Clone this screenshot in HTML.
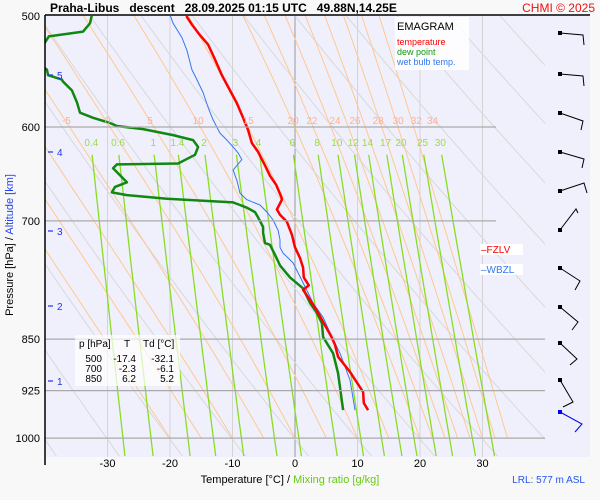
<!DOCTYPE html>
<html><head><meta charset="utf-8"><style>
html,body{margin:0;padding:0;background:#f8f8f8;}
svg{display:block;font-family:"Liberation Sans",Arial,sans-serif;}
</style></head><body>
<svg id="chart" width="600" height="500" viewBox="0 0 600 500">
<defs><clipPath id="pc"><rect x="45" y="16" width="500" height="441"/></clipPath></defs>
<rect x="45" y="16" width="545" height="441" fill="#f0f0fc"/>
<g id="grid" clip-path="url(#pc)"></g>
<g id="series" clip-path="url(#pc)"></g>
<g id="axes"></g>
<line x1="45" y1="15" x2="590" y2="15" stroke="#000" stroke-width="1.5"/>
<line x1="45" y1="15" x2="45" y2="465" stroke="#000" stroke-width="1.5"/>
<text x="50" y="12" font-size="12" font-weight="bold" xml:space="preserve">Praha-Libus   descent   28.09.2025 01:15 UTC   49.88N,14.25E</text>
<text x="595" y="12" font-size="12" fill="#ee1111" text-anchor="end">CHMI © 2025</text>
<g>
<rect x="395" y="17" width="74" height="53" fill="#fff" opacity="0.85"/>
<text x="397" y="30" font-size="11">EMAGRAM</text>
<text x="397" y="45" font-size="9" fill="#ff0000">temperature</text>
<text x="397" y="55" font-size="9" fill="#119911">dew point</text>
<text x="397" y="65" font-size="9" fill="#3377ee">wet bulb temp.</text>
</g>
<g font-size="10">
<rect x="75" y="335" width="105" height="51" fill="#fff" opacity="0.7"/>
<text x="79" y="347">p [hPa]</text><text x="124" y="347">T</text><text x="143" y="347">Td [°C]</text>
<text x="102" y="362" text-anchor="end">500</text><text x="136" y="362" text-anchor="end">-17.4</text><text x="174" y="362" text-anchor="end">-32.1</text>
<text x="102" y="372" text-anchor="end">700</text><text x="136" y="372" text-anchor="end">-2.3</text><text x="174" y="372" text-anchor="end">-6.1</text>
<text x="102" y="382" text-anchor="end">850</text><text x="136" y="382" text-anchor="end">6.2</text><text x="174" y="382" text-anchor="end">5.2</text>
</g>
<g><rect x="480" y="244" width="43" height="11" fill="#fff"/><text x="481" y="253" font-size="10" fill="#ff0000">–FZLV</text></g>
<g><rect x="480" y="264" width="43" height="11" fill="#fff"/><text x="481" y="273" font-size="10" fill="#3377ee">–WBZL</text></g>
<text x="290" y="483" font-size="11" text-anchor="middle">Temperature [°C]  /  <tspan fill="#66cc11">Mixing ratio [g/kg]</tspan></text>
<text x="585" y="483" font-size="10" fill="#2255ee" text-anchor="end">LRL: 577 m ASL</text>
<text transform="translate(13,245) rotate(-90)" font-size="11" text-anchor="middle">Pressure [hPa]  /  <tspan fill="#2244ee">Altitude [km]</tspan></text>
<g id="barbs"></g>
</svg>
<script>
// data
const tempP=[500,507,516,524,537,551,565,577,591,603,616,625,639,650,660,673,676,687,693,701,716,731,744,756,768,778,784,797,814,831,848,858,875,897,927,944,955];
const tempT=[-17.4,-16.5,-15.2,-13.9,-12.8,-11.7,-10.4,-9.3,-8.3,-7.5,-6.9,-5.9,-4.8,-4.0,-3.0,-2.2,-2.1,-2.9,-2.4,-1.3,-0.5,0,0.8,1.3,1.4,2.2,1.3,2.4,3.7,4.8,5.9,6.4,6.9,8.8,10.9,11.0,11.7];
const dewP=[499,506,513,517,529,542,546,551,555,557,565,576,586,591,596,599,602,608,613,620,628,637,638,642,657,662,668,671,675,679,682,685,690,696,707,714,726,728,740,753,768,782,801,814,828,847,870,899,955];
const dewT=[-32.5,-32.8,-33.9,-39.4,-40.8,-40.8,-39.7,-39.5,-37.3,-37.1,-35.7,-34.9,-34.4,-32.3,-29.6,-28.5,-24.3,-19.5,-16.3,-15.5,-16,-18.7,-28.5,-29.1,-26.9,-28.8,-29.3,-26.9,-20.5,-9.9,-8.8,-7.7,-6.4,-5.9,-5.1,-5.1,-4.8,-4.0,-3.2,-2.4,-0.8,1.3,2.4,3.5,4.3,4.5,6.1,6.9,7.7];
const wbP=[499,506,518,529,546,555,567,581,593,606,613,620,626,633,644,655,669,676,682,690,699,711,722,731,738,750,775,801,820,841,870,909,955];
const wbT=[-20,-19.5,-18.1,-17.3,-16.5,-15.7,-14.7,-13.9,-13.1,-12,-10.9,-9.9,-9.1,-8.5,-9.9,-9.3,-8.8,-7.7,-5.6,-4.5,-3.5,-2.7,-2.4,-2.4,-1.9,-0.3,1.3,2.9,4.5,5.6,7.2,8.8,9.6];
const xTicks=[-30,-20,-10,0,10,20,30];
const pTicks=[500,600,700,850,925,1000];
const altKm=[1,2,3,4,5];
const altY=[381,306,231,152,75];
const mixW=[0.4,0.6,1,1.4,2,3,4,6,8,10,12,14,17,20,25,30];
const thetaW=[-20,-15,-10,-5,0,5,10,15,20,22,24,26,28,30,32,34];
const adiabLabels=[-5,0,5,10,15,20,22,24,26,28,30,32,34];
const adiabLabelT=[-36.6,-30,-23.2,-15.5,-7.5,-0.3,2.7,6.4,9.6,13.3,16.5,19.4,22];

const NS='http://www.w3.org/2000/svg';
const X=t=>295+6.25*t;
const Y=p=>16+609*Math.log(p/500);
function mk(tag,at,parent){const e=document.createElementNS(NS,tag);for(const k in at)e.setAttribute(k,at[k]);parent.appendChild(e);return e;}
const grid=document.getElementById('grid'),ser=document.getElementById('series'),axes=document.getElementById('axes');
function poly(pts,stroke,w,parent,name){const e=mk('polyline',{points:pts.map(q=>q[0].toFixed(1)+','+q[1].toFixed(1)).join(' '),fill:'none',stroke:stroke,'stroke-width':w,'stroke-linejoin':'round'},parent);


return e;}
xTicks.forEach(t=>{const l=mk('line',{x1:X(t),y1:16,x2:X(t),y2:457,stroke:t===0?'#999':'#d4d4d4','stroke-width':1},grid);

});
// dry adiabats (gray)
for(let th=213;th<=433;th+=10){const pts=[];for(let p=1030;p>=495;p-=10)pts.push([X(th*Math.pow(p/1000,0.2857)-273.15),Y(p)]);poly(pts,'#d8d8d8',1,grid,'dry-adiabat');}
// moist adiabats (orange)
function es(T){return 6.112*Math.exp(17.67*T/(T+243.5));}
thetaW.forEach(tw=>{let T=tw+273.15;const pts=[[X(tw),Y(1000)]];for(let p=1000;p>500;p-=5){const e=es(T-273.15),rs=0.622*e/(p-e);const d=(287*T+2.5e6*rs)/(p*(1004+2.5e6*2.5e6*rs*0.622/(287*T*T)));T-=d*5;pts.push([X(T-273.15),Y(p-5)]);}poly(pts,'#ffc890',1,grid,'moist-adiabat');});
function tdw(w,p){const e=w*p/(622+w),l=Math.log(e/6.112);return 243.5*l/(17.67-l);}
mixW.forEach(w=>{const pts=[];for(let p=1030;p>=628;p-=20)pts.push([X(tdw(w,p)),Y(p)]);pts.push([X(tdw(w,628)),Y(628)]);poly(pts,'#88dd22',1.3,grid,'mixing-ratio-line');
const t=mk('text',{x:X(tdw(w,620)),y:146,'font-size':10,fill:'#99dd44','text-anchor':'middle'},axes);t.textContent=w;

});
adiabLabels.forEach((v,i)=>{const t=mk('text',{x:X(adiabLabelT[i]),y:124,'font-size':10,fill:'#ffb090','text-anchor':'middle'},axes);t.textContent=v;

});
pTicks.forEach(p=>{if(p===500)return;const l=mk('line',{x1:45,y1:Y(p),x2:p<800?496:545,y2:Y(p),stroke:'#aaa','stroke-width':1.2},axes);

});
pTicks.forEach(p=>{const t=mk('text',{x:40,y:Y(p)+4,'font-size':11,'text-anchor':'end'},axes);t.textContent=p;

});
xTicks.forEach(v=>{const t=mk('text',{x:X(v),y:467,'font-size':11,'text-anchor':'middle'},axes);t.textContent=v;

});
altKm.forEach((k,i)=>{const l=mk('line',{x1:48,y1:altY[i],x2:53,y2:altY[i],stroke:'#2233ee','stroke-width':1.2},axes);


const t=mk('text',{x:57,y:altY[i]+4,'font-size':10,fill:'#2233ee'},axes);t.textContent=k;

});
poly(wbP.map((p,i)=>[X(wbT[i]),Y(p)]),'#3377ee',1,ser,'wet-bulb-line');
poly(dewP.map((p,i)=>[X(dewT[i]),Y(p)]),'#118811',2.5,ser,'dew-point-line');
poly(tempP.map((p,i)=>[X(tempT[i]),Y(p)]),'#ff0000',2.5,ser,'temperature-line');
// wind barbs
const barbY=[33,74,113,152,191,230,268,307,343,380,412];
const barbEnd=[[583,35],[583,76],[583,121],[584,159],[584,183],[576,209],[580,281],[578,322],[577,359],[573,402],[582,424]];
const barbF=[[584,45],[584,86],[581,130],[582,168],[587,193],[578,213],[575,290],[572,330],[570,365],[563,407],[575,432]];
const bg=document.getElementById('barbs');
barbY.forEach((y,i)=>{const c=i===barbY.length-1?'#0000ee':'#000';
const g=mk('g',{},bg);

mk('rect',{x:558,y:y-2,width:4,height:4,fill:c},g);
mk('polyline',{points:`560,${y} ${barbEnd[i][0]},${barbEnd[i][1]} ${barbF[i][0]},${barbF[i][1]}`,fill:'none',stroke:c,'stroke-width':1},g);});
</script>
</body></html>
